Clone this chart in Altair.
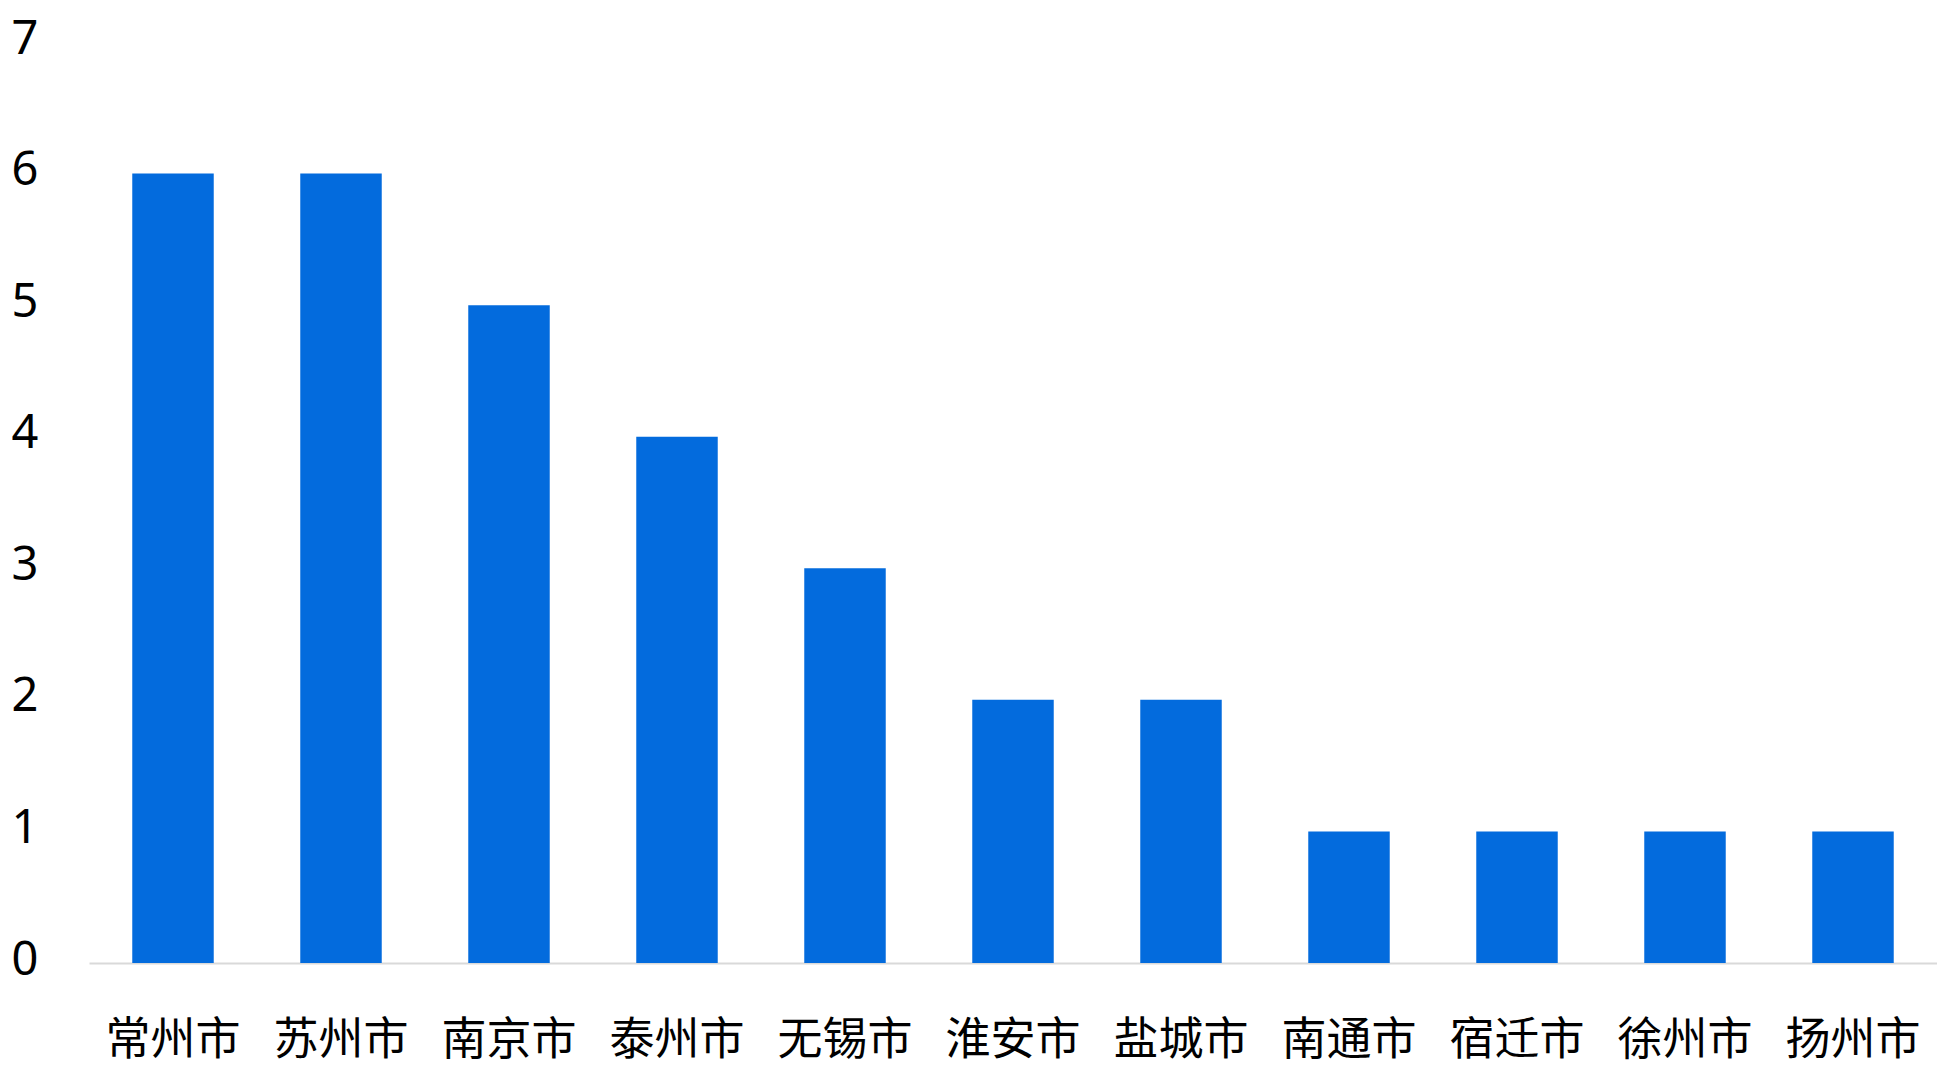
import altair as alt
import pandas as pd

cities = ["常州市", "苏州市", "南京市", "泰州市", "无锡市", "淮安市",
          "盐城市", "南通市", "宿迁市", "徐州市", "扬州市"]
counts = [6, 6, 5, 4, 3, 2, 2, 1, 1, 1, 1]
y_ticks = [0, 1, 2, 3, 4, 5, 6, 7]

df = pd.DataFrame({"city": cities, "count": counts})

CJK_FONT = "Noto Sans CJK SC"
NUM_FONT = "Noto Sans"

chart = alt.Chart(df).mark_bar(color="#036BDD").encode(
    x=alt.X(
        "city:N",
        sort=cities,
        scale=alt.Scale(paddingInner=0.515, paddingOuter=0.2575),
        axis=alt.Axis(
            title=None,
            labelAngle=0,
            labelFont=CJK_FONT,
            labelFontSize=45,
            labelColor="#000000",
            labelPadding=55,
            ticks=False,
            domain=True,
            domainColor="#d9d9d9",
            domainWidth=2,
            grid=False,
        ),
    ),
    y=alt.Y(
        "count:Q",
        scale=alt.Scale(domain=[0, 7], nice=False),
        axis=alt.Axis(
            title=None,
            values=y_ticks,
            labelFont=NUM_FONT,
            labelFontSize=47,
            labelColor="#000000",
            labelPadding=51,
            labelOffset=-3,
            ticks=False,
            domain=False,
            grid=False,
        ),
    ),
).properties(
    width=1848,
    height=921,
    autosize=alt.AutoSizeParams(type="none"),
    padding={"left": 81, "top": 34, "right": 0, "bottom": 120},
).configure_view(stroke=None)

chart.save("out.html", embed_options={"renderer": "svg", "actions": False})
